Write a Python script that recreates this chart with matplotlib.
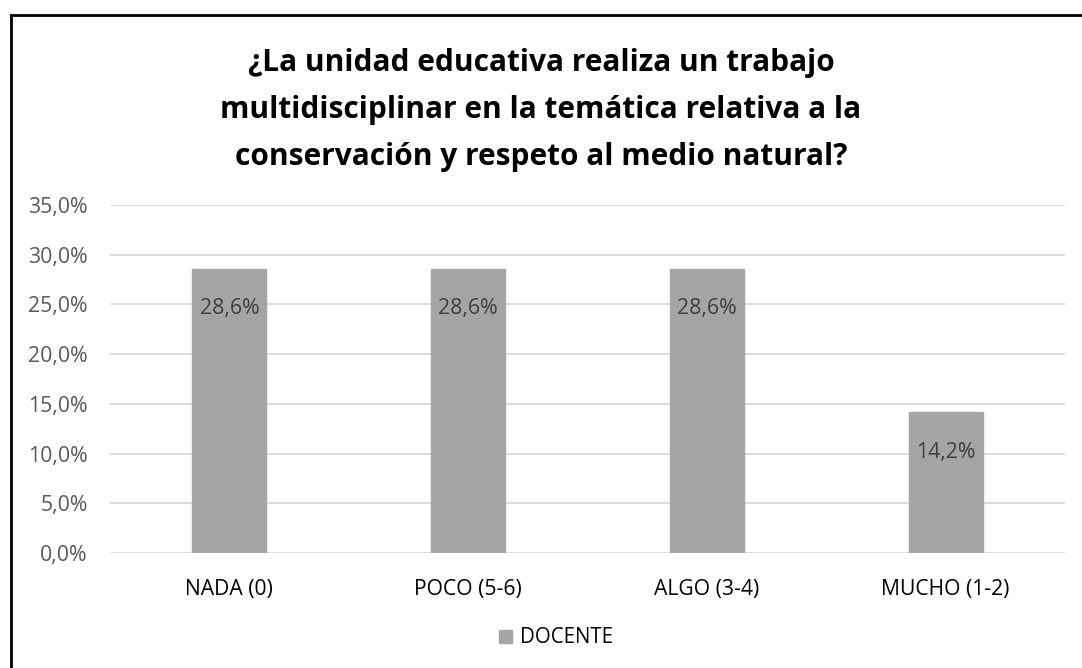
import matplotlib
matplotlib.use('Agg')
import matplotlib.pyplot as plt
from matplotlib.lines import Line2D
from matplotlib.ticker import FuncFormatter

# datos del grafico
categorias = ['NADA (0)', 'POCO (5-6)', 'ALGO (3-4)', 'MUCHO (1-2)']
docente = [0.286, 0.286, 0.286, 0.142]
etiquetas = ['28,6%', '28,6%', '28,6%', '14,2%']
titulo = ('¿La unidad educativa realiza un trabajo\n'
          'multidisciplinar en la temática relativa a la\n'
          'conservación y respeto al medio natural?')

plt.rcParams['font.family'] = ['Open Sans', 'DejaVu Sans']

fig = plt.figure(figsize=(10.82, 6.68), dpi=100)
ax = fig.add_axes([0.1017, 0.1722, 0.8826, 0.5209])

x = range(len(categorias))
bars = ax.bar(x, docente, width=0.31, color='#A5A5A5', edgecolor='#A5A5A5',
              zorder=3, label='DOCENTE')
for b, txt in zip(bars, etiquetas):
    ax.annotate(txt, (b.get_x() + b.get_width() / 2, b.get_height()),
                xytext=(0, -29), textcoords='offset points',
                ha='center', va='center', fontsize=15.3, color='#404040', zorder=4)

ax.set_xlim(-0.5, 3.5)
ax.set_ylim(0, 0.35)
ax.set_yticks([i * 0.05 for i in range(8)])
ax.yaxis.set_major_formatter(FuncFormatter(lambda v, p: f'{v*100:.1f}%'.replace('.', ',')))
ax.set_xticks(list(x))
ax.set_xticklabels(categorias)
ax.tick_params(axis='y', length=0, labelsize=15.3, labelcolor='#595959', pad=16)
ax.tick_params(axis='x', length=0, labelsize=15.2, labelcolor='#000000', pad=19)
ax.grid(axis='y', color='#D9D9D9', linewidth=1.3, zorder=0)
for s in ax.spines.values():
    s.set_visible(False)

fig.text(0.5, 0.835, titulo, ha='center', va='center', fontsize=21.5,
         fontweight='bold', color='#000000', linespacing=1.73)

leg = fig.legend(loc='center', bbox_to_anchor=(0.514, 0.045), frameon=False,
                 fontsize=14.8, handlelength=0.6, handleheight=0.6, handletextpad=0.4)

# marco (solo izquierda y arriba visibles)
fig.add_artist(Line2D([11 / 1082, 11 / 1082], [0, 1 - 15 / 668], color='black', lw=2,
                      transform=fig.transFigure))
fig.add_artist(Line2D([11 / 1082, 1], [1 - 15 / 668, 1 - 15 / 668], color='black', lw=2,
                      transform=fig.transFigure))

fig.savefig('out.png', dpi=100)
